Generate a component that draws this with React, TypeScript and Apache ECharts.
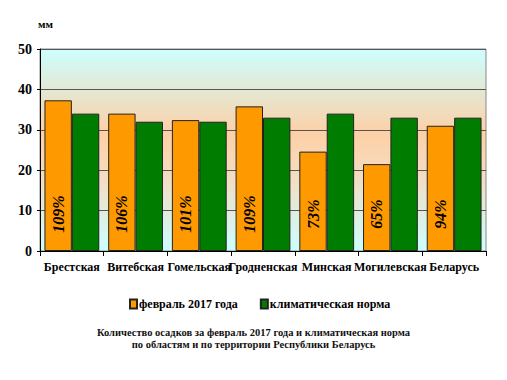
import React, { useEffect, useRef } from "react";
import * as echarts from "echarts";

const categories = ["Брестская", "Витебская", "Гомельская", "Гродненская", "Минская", "Могилевская", "Беларусь"];
const feb2017 = [37.3, 34.0, 32.4, 35.8, 24.6, 21.5, 31.0];
const climateNorm = [34.0, 32.0, 32.0, 33.0, 34.0, 33.0, 33.0];
const percentLabels = ["109%", "106%", "101%", "109%", "73%", "65%", "94%"];
const yTicks = { min: 0, max: 50, interval: 10 };
const seriesNames = ["февраль 2017 года", "климатическая норма"];
const captionLines = [
  "Количество осадков за февраль 2017 года и климатическая норма",
  "по областям и по территории Республики Беларусь",
];

const serif = "Liberation Serif";

export default function App() {
  const ref = useRef<HTMLDivElement>(null);
  useEffect(() => {
    if (!ref.current) return;
    const chart = echarts.init(ref.current, undefined, { renderer: "svg" });
    chart.setOption({
      animation: false,
      backgroundColor: "#ffffff",
      textStyle: { fontFamily: serif },
      title: {
        text: captionLines.join("\n"),
        left: "center",
        top: 322,
        textStyle: { fontFamily: serif, fontSize: 10.5, fontWeight: "bold", color: "#111", lineHeight: 11.5 },
      },
      legend: {
        data: seriesNames,
        top: 293,
        left: 124,
        itemWidth: 7,
        itemHeight: 9,
        itemGap: 22,
        icon: "rect",
        textStyle: { fontFamily: serif, fontSize: 12, fontWeight: "bold", color: "#000", padding: [0, 0, 0, -3] },
      },
      grid: {
        left: 40,
        right: 21,
        top: 49,
        bottom: 129,
        show: true,
        borderColor: "#888",
        borderWidth: 1,
        backgroundColor: new echarts.graphic.LinearGradient(0, 0, 0, 1, [
          { offset: 0, color: "#ccffff" },
          { offset: 0.42, color: "#fdd0a6" },
          { offset: 0.62, color: "#f5dcc0" },
          { offset: 1, color: "#ccffff" },
        ]),
      },
      xAxis: {
        type: "category",
        data: categories,
        axisLine: { lineStyle: { color: "#000", width: 1 } },
        axisTick: { show: true, length: 5, lineStyle: { color: "#000" } },
        axisLabel: {
          interval: 0,
          hideOverlap: false,
          fontFamily: serif,
          fontSize: 12,
          fontWeight: "bold",
          color: "#000",
          margin: 10,
        },
      },
      yAxis: {
        type: "value",
        min: yTicks.min,
        max: yTicks.max,
        interval: yTicks.interval,
        name: "мм",
        nameLocation: "end",
        nameGap: 20,
        nameTextStyle: { fontFamily: serif, fontSize: 11, fontWeight: "bold", color: "#000", align: "left", padding: [0, 0, 0, -2] },
        axisLine: { show: true, lineStyle: { color: "#000", width: 1 } },
        axisTick: { show: true, length: 3, lineStyle: { color: "#000" } },
        axisLabel: { fontFamily: serif, fontSize: 14, fontWeight: "bold", color: "#000", margin: 8 },
        splitLine: { show: true, lineStyle: { color: "#555", width: 1 } },
      },
      series: [
        {
          name: seriesNames[0],
          type: "bar",
          data: feb2017,
          barGap: "0%",
          barCategoryGap: "14%",
          itemStyle: { color: "#ff9900", borderColor: "#222", borderWidth: 1 },
          label: {
            show: true,
            position: "insideBottom",
            distance: 37,
            rotate: 90,
            align: "center",
            verticalAlign: "middle",
            formatter: (p: any) => percentLabels[p.dataIndex],
            fontFamily: serif,
            fontSize: 16,
            fontWeight: "bold",
            fontStyle: "italic",
            color: "#000",
          },
        },
        {
          name: seriesNames[1],
          type: "bar",
          data: climateNorm,
          itemStyle: { color: "#007d00", borderColor: "#222", borderWidth: 1 },
        },
      ],
    });
    return () => chart.dispose();
  }, []);
  return <div ref={ref} style={{ width: 507, height: 380, margin: -8 }} />;
}
